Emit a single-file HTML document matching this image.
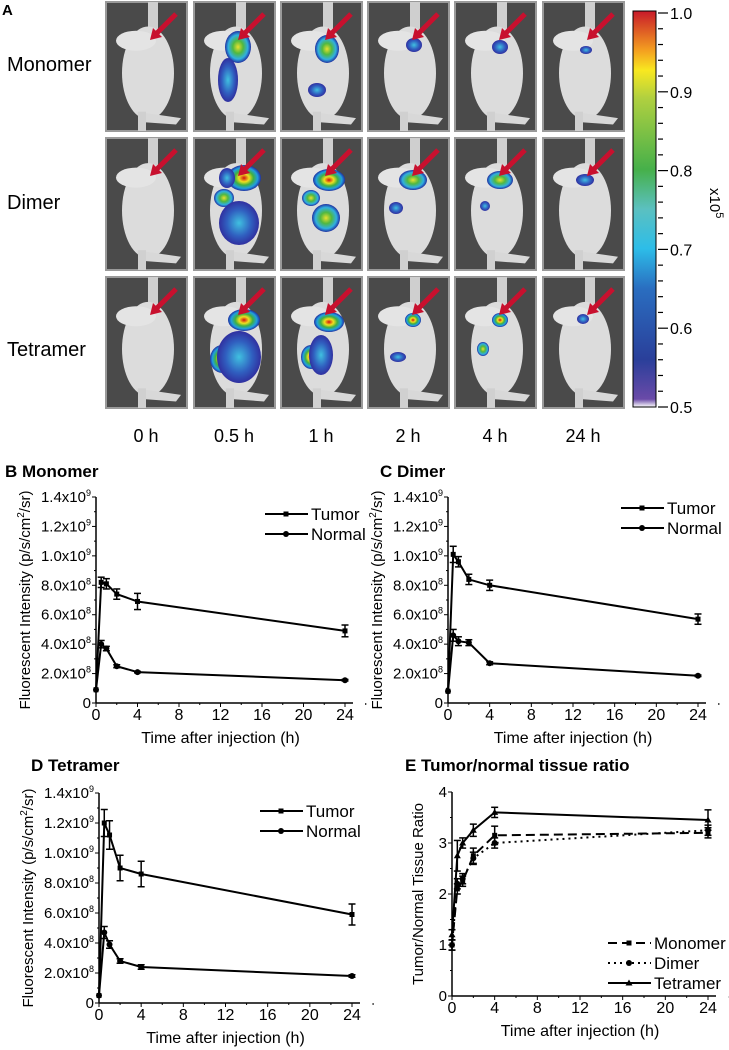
<!DOCTYPE html>
<html><head><meta charset="utf-8"><style>
body{margin:0;background:#fff;}
svg{display:block;font-family:"Liberation Sans",Arial,sans-serif;}
</style></head><body>
<svg id="fig" width="729" height="1050" viewBox="0 0 729 1050" xmlns="http://www.w3.org/2000/svg">
<defs>
<linearGradient id="cb" x1="0" y1="1" x2="0" y2="0">
<stop offset="0" stop-color="#ffffff"/><stop offset="0.02" stop-color="#6a4aa8"/>
<stop offset="0.12" stop-color="#2a3f9a"/><stop offset="0.3" stop-color="#2a6ec0"/>
<stop offset="0.4" stop-color="#2dbde8"/><stop offset="0.5" stop-color="#5bc0c0"/>
<stop offset="0.6" stop-color="#46b04a"/><stop offset="0.78" stop-color="#b0d040"/>
<stop offset="0.85" stop-color="#f8e820"/><stop offset="0.9" stop-color="#f4a020"/>
<stop offset="1" stop-color="#c81a2a"/>
</linearGradient>
<radialGradient id="hot"><stop offset="0" stop-color="#d01010"/><stop offset="0.3" stop-color="#f0e020"/><stop offset="0.55" stop-color="#40b040"/><stop offset="0.8" stop-color="#20a0e0"/><stop offset="1" stop-color="#2030a0"/></radialGradient>
<radialGradient id="warm"><stop offset="0" stop-color="#e8e030"/><stop offset="0.4" stop-color="#50b840"/><stop offset="0.75" stop-color="#30b0e0"/><stop offset="1" stop-color="#2030a0"/></radialGradient>
<radialGradient id="cool"><stop offset="0" stop-color="#40c0e0"/><stop offset="0.6" stop-color="#3060c0"/><stop offset="1" stop-color="#3030a0"/></radialGradient>
</defs>
<g id="panelA"></g>
<g id="charts"></g>
</svg>
<script>
const NS="http://www.w3.org/2000/svg";
const svg=document.getElementById('fig');
function mk(tag,attrs,parent,txt){const e=document.createElementNS(NS,tag);for(const k in attrs)e.setAttribute(k,attrs[k]);if(txt!==undefined)e.textContent=txt;(parent||svg).appendChild(e);return e;}

// ---------- Panel A ----------
const A=document.getElementById('panelA');
const colX=[106,194,281,368,455,543];
const rowY=[2,138,277];
const rowH=[129,132,131];
const timeLabels=["0 h","0.5 h","1 h","2 h","4 h","24 h"];
const rowLabels=["Monomer","Dimer","Tetramer"];
const rowLabelY=[71,209,356];
const blobs=[
 [[],[[44,45,13,16,'warm'],[34,78,10,22,'cool']],[[46,47,12,14,'warm'],[36,88,9,7,'cool']],[[46,43,8,7,'cool']],[[45,45,8,7,'cool']],[[43,48,6,4,'cool']]],
 [[],[[50,40,17,13,'hot'],[30,60,10,9,'warm'],[45,85,20,22,'cool'],[33,40,8,10,'cool']],[[48,42,16,11,'hot'],[30,60,9,8,'warm'],[45,80,14,14,'warm']],[[45,42,14,10,'warm'],[28,70,7,6,'cool']],[[45,42,13,9,'warm'],[30,68,5,5,'cool']],[[42,42,9,6,'cool']]],
 [[],[[50,43,16,11,'hot'],[28,82,12,14,'hot'],[45,80,22,26,'cool']],[[48,45,15,10,'hot'],[30,80,10,12,'hot'],[40,78,12,20,'cool']],[[45,43,8,7,'hot'],[30,80,8,5,'cool']],[[45,43,8,7,'hot'],[28,72,6,7,'warm']],[[40,42,6,5,'cool']]]
];
mk('text',{x:2,y:15,'font-size':15,'font-weight':'bold',},A,'A');
for(let r=0;r<3;r++){
  mk('text',{x:7,y:rowLabelY[r],'font-size':20,},A,rowLabels[r]);
  for(let c=0;c<6;c++){
    const x=colX[c],y=rowY[r],h=rowH[r];
    const g=mk('g',{},A);
    mk('rect',{x:x,y:y,width:81,height:h,fill:'#4a4a4a',stroke:'#9a9a9a','stroke-width':2},g);
    mk('rect',{x:x+42,y:y,width:10,height:30,fill:'#cfcfcf'},g);
    mk('ellipse',{cx:x+42,cy:y+h*0.55,rx:26,ry:h*0.36,fill:'#dcdcdc'},g);
    mk('ellipse',{cx:x+30,cy:y+h*0.3,rx:20,ry:10,fill:'#e4e4e4'},g);
    mk('path',{d:`M${x+30} ${y+h*0.85} L${x+75} ${y+h*0.9} L${x+70} ${y+h*0.95} L${x+35} ${y+h*0.93}Z`,fill:'#d8d8d8'},g);
    mk('rect',{x:x+32,y:y+h*0.85,width:8,height:h*0.15,fill:'#d0d0d0'},g);
    for(const b of blobs[r][c]) mk('ellipse',{cx:x+b[0],cy:y+b[1],rx:b[2],ry:b[3],fill:'url(#'+b[4]+')'},g);
    mk('line',{x1:x+70,y1:y+12,x2:x+50,y2:y+32,stroke:'#c8102e','stroke-width':5},g);
    mk('path',{d:`M${x+44} ${y+38} L${x+47} ${y+26} L${x+56} ${y+35}Z`,fill:'#c8102e'},g);
  }
}
for(let c=0;c<6;c++) mk('text',{x:colX[c]+40,y:442,'font-size':18,'text-anchor':'middle',},A,timeLabels[c]);
const cbTicks=["1.0","0.9","0.8","0.7","0.6","0.5"];
mk('rect',{x:633,y:11,width:23,height:396,fill:'url(#cb)',stroke:'#000','stroke-width':1,},A);
for(let i=0;i<=25;i++){const y=13+i*(394/25);const major=i%5===0;
  mk('line',{x1:658,y1:y,x2:major?668:663,y2:y,stroke:'#000','stroke-width':1.2},A);}
cbTicks.forEach((t,i)=>mk('text',{x:670,y:13+i*78.8+6,'font-size':16,},A,t));
mk('text',{x:0,y:0,'font-size':15,transform:'translate(710,188) rotate(90)',},A).innerHTML='x10<tspan dy="-6" font-size="11">5</tspan>';

// ---------- Line charts ----------
const times=[0,0.5,1,2,4,24];
const xTicks=[0,4,8,12,16,20,24];
const yTicksInt=["0","2.0x10<8>","4.0x10<8>","6.0x10<8>","8.0x10<8>","1.0x10<9>","1.2x10<9>","1.4x10<9>"];
const yTicksRatio=["0","1","2","3","4"];
const bTumor=[0.9,8.2,8.1,7.4,6.9,4.9], bTumorErr=[0,0.35,0.35,0.35,0.55,0.4];
const bNormal=[0.9,4.0,3.7,2.5,2.1,1.55], bNormalErr=[0,0.25,0.15,0.1,0.05,0.05];
const cTumor=[0.8,10.1,9.6,8.4,8.0,5.7], cTumorErr=[0,0.55,0.35,0.35,0.35,0.35];
const cNormal=[0.8,4.6,4.2,4.1,2.7,1.85], cNormalErr=[0,0.4,0.3,0.2,0.1,0.05];
const dTumor=[0.5,12.0,11.2,9.0,8.6,5.9], dTumorErr=[0,0.9,0.95,0.85,0.85,0.7];
const dNormal=[0.5,4.7,3.9,2.8,2.4,1.8], dNormalErr=[0,0.4,0.25,0.15,0.15,0.08];
const eMonomer=[1.0,2.1,2.25,2.75,3.15,3.2], eMonomerErr=[0.1,0.1,0.1,0.15,0.18,0.1];
const eDimer=[1.0,2.2,2.3,2.7,3.0,3.25], eDimerErr=[0.1,0.1,0.1,0.12,0.1,0.1];
const eTetramer=[1.2,2.75,3.0,3.25,3.6,3.45], eTetramerErr=[0.1,0.3,0.1,0.12,0.1,0.2];

function fmtTick(g,x,y,t){
  const m=t.match(/^(.*)<(\d)>$/);
  const el=mk('text',{x:x,y:y,'font-size':15,'text-anchor':'end',},g);
  if(m){el.innerHTML=m[1]+'<tspan dy="-6" font-size="9">'+m[2]+'</tspan>';}else el.textContent=t;
}
function chart(o){
  const g=mk('g',{},document.getElementById('charts'));
  const X=v=>o.x0+(v/24)*(o.x1-o.x0);
  const Y=v=>o.y0-(v/o.ymax)*(o.y0-o.y1);
  mk('text',{x:o.tx,y:o.ty,'font-size':17,'font-weight':'bold',},g,o.title);
  mk('line',{x1:o.x0,y1:o.y0,x2:o.x0,y2:o.y1,stroke:'#000','stroke-width':1.5,},g);
  mk('line',{x1:o.x0,y1:o.y0,x2:o.x1+8,y2:o.y0,stroke:'#000','stroke-width':1.5,},g);
  xTicks.forEach(t=>{mk('line',{x1:X(t),y1:o.y0,x2:X(t),y2:o.y0+4,stroke:'#000'},g);
    mk('line',{x1:X(t+2),y1:o.y0,x2:X(t+2),y2:o.y0+2,stroke:'#000'},g);
    mk('text',{x:X(t),y:o.y0+17,'font-size':16,'text-anchor':'middle',},g,String(t));});
  o.yt.forEach((t,i)=>{const v=i*o.ystep;mk('line',{x1:o.x0-4,y1:Y(v),x2:o.x0,y2:Y(v),stroke:'#000'},g);
    if(i<o.yt.length-1)mk('line',{x1:o.x0-2,y1:Y(v+o.ystep/2),x2:o.x0,y2:Y(v+o.ystep/2),stroke:'#000'},g);
    fmtTick(g,o.x0-5,Y(v)+5,t);});
  mk('text',{x:(o.x0+o.x1)/2,y:o.y0+40,'font-size':16,'text-anchor':'middle',},g,'Time after injection (h)');
  const yt=mk('text',{x:0,y:0,'font-size':15,'text-anchor':'middle',transform:`translate(${o.x0-(o.ratio?29:66)},${(o.y0+o.y1)/2}) rotate(-90)`,},g);
  yt.innerHTML=o.ratio?'Tumor/Normal Tissue Ratio':'Fluorescent Intensity (p/s/cm<tspan dy="-6" font-size="10">2</tspan><tspan dy="6">/sr)</tspan>';
  o.series.forEach((s,si)=>{
    const sg=mk('g',{},g);
    const pts=times.map((t,i)=>X(t)+','+Y(s.v[i])).join(' ');
    mk('polyline',{points:pts,fill:'none',stroke:'#000','stroke-width':2,'stroke-dasharray':s.dash||'none'},sg);
    times.forEach((t,i)=>{const cx=X(t),cy=Y(s.v[i]),e=s.e[i];
      if(e>0){mk('line',{x1:cx,y1:Y(s.v[i]-e),x2:cx,y2:Y(s.v[i]+e),stroke:'#000','stroke-width':1.5},sg);
        [s.v[i]-e,s.v[i]+e].forEach(v=>mk('line',{x1:cx-3.5,y1:Y(v),x2:cx+3.5,y2:Y(v),stroke:'#000','stroke-width':1.5},sg));}
      marker(sg,s.m,cx,cy);});
    const ly=o.ly+si*20;
    mk('line',{x1:o.lx,y1:ly,x2:o.lx+43,y2:ly,stroke:'#000','stroke-width':2,'stroke-dasharray':s.dash||'none',},g);
    marker(g,s.m,o.lx+21,ly);
    mk('text',{x:o.lx+46,y:ly+6,'font-size':17,},g,s.label);
  });
}
function marker(g,m,x,y){
  if(m==='s')mk('rect',{x:x-2.5,y:y-2.5,width:5,height:5,fill:'#000'},g);
  else if(m==='c')mk('circle',{cx:x,cy:y,r:3,fill:'#000'},g);
  else mk('path',{d:`M${x} ${y-3.5} L${x+3.5} ${y+2.5} L${x-3.5} ${y+2.5}Z`,fill:'#000'},g);
}
const yInt={yt:yTicksInt,ystep:2,ymax:14};
chart(Object.assign({name:'chart-b-monomer',title:'B Monomer',tx:5,ty:477,x0:96,x1:345,y0:703,y1:497,lx:265,ly:514,
  series:[{label:'Tumor',v:bTumor,e:bTumorErr,m:'s'},{label:'Normal',v:bNormal,e:bNormalErr,m:'c'}]},yInt));
chart(Object.assign({name:'chart-c-dimer',title:'C Dimer',tx:380,ty:477,x0:448,x1:698,y0:703,y1:497,lx:621,ly:508,
  series:[{label:'Tumor',v:cTumor,e:cTumorErr,m:'s'},{label:'Normal',v:cNormal,e:cNormalErr,m:'c'}]},yInt));
chart(Object.assign({name:'chart-d-tetramer',title:'D Tetramer',tx:31,ty:771,x0:99,x1:352,y0:1003,y1:793,lx:260,ly:811,
  series:[{label:'Tumor',v:dTumor,e:dTumorErr,m:'s'},{label:'Normal',v:dNormal,e:dNormalErr,m:'c'}]},yInt));
chart({name:'chart-e-ratio',title:'E Tumor/normal tissue ratio',tx:405,ty:771,x0:452,x1:708,y0:996,y1:792,lx:608,ly:943,ratio:true,
  yt:yTicksRatio,ystep:1,ymax:4,
  series:[{label:'Monomer',v:eMonomer,e:eMonomerErr,m:'s',dash:'9,5'},{label:'Dimer',v:eDimer,e:eDimerErr,m:'c',dash:'2,4'},{label:'Tetramer',v:eTetramer,e:eTetramerErr,m:'t'}]});
</script>
</body></html>
